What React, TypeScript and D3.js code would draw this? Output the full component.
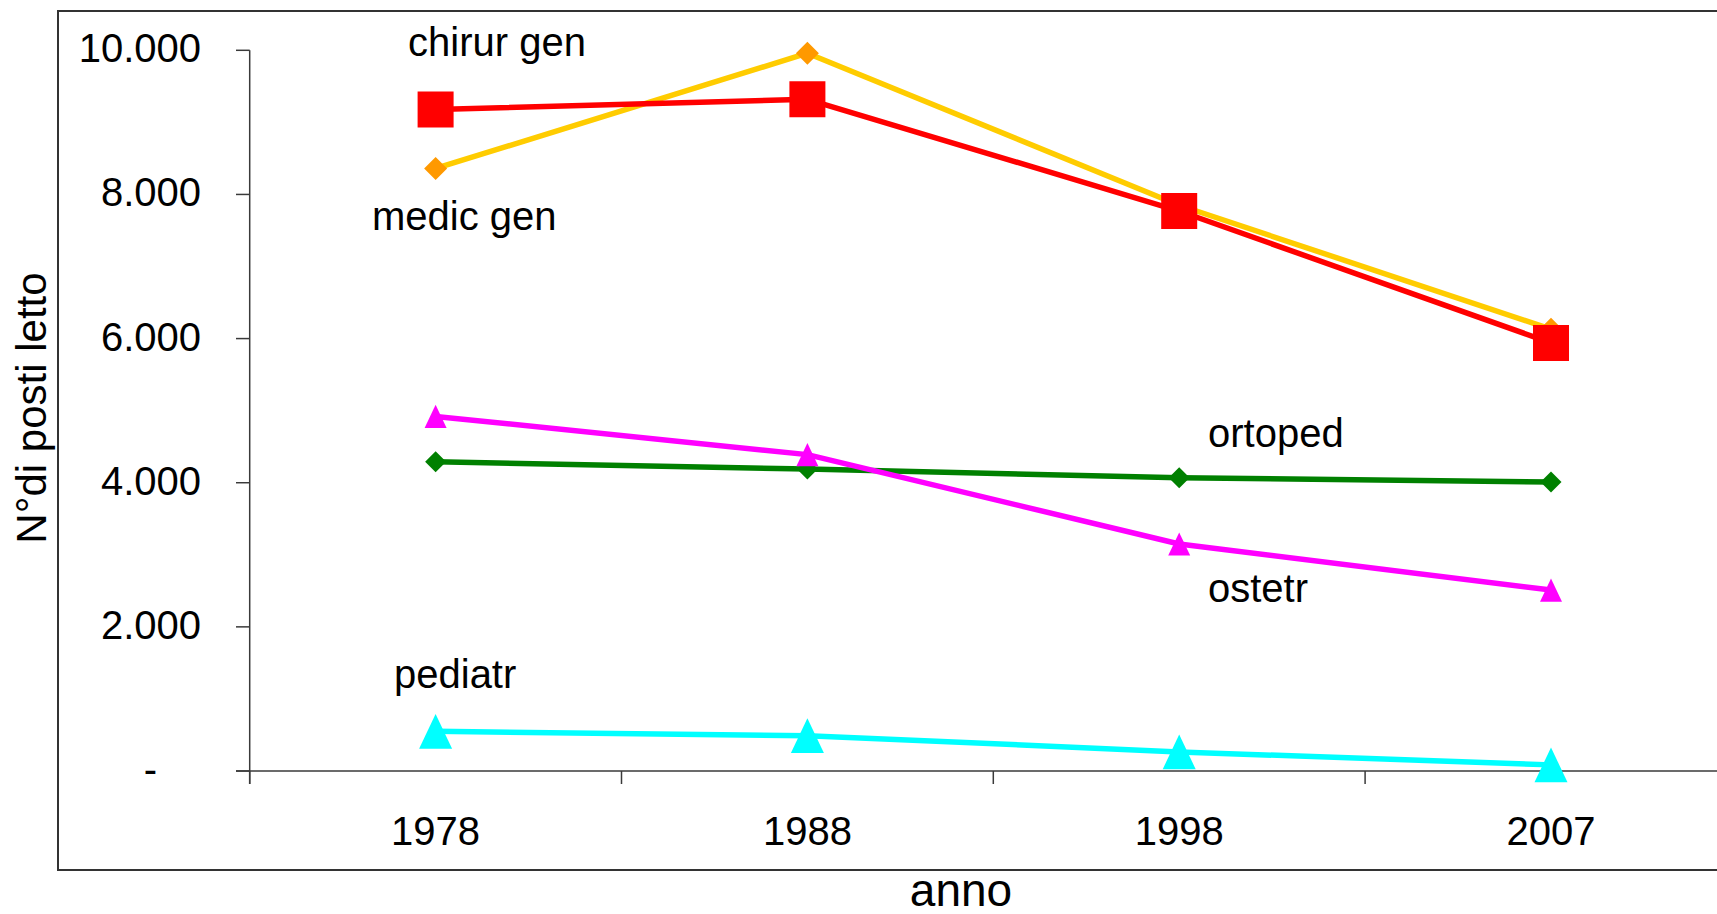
import React from "react";
import * as d3 from "d3";

const years = ["1978", "1988", "1998", "2007"];
const chirurGen = [9180, 9320, 7770, 5940];
const medicGen = [8360, 9960, 7850, 6130];
const ortoped = [4290, 4190, 4070, 4010];
const ostetr = [4920, 4390, 3150, 2510];
const pediatr = [550, 490, 265, 85];
const yTicks = [0, 2000, 4000, 6000, 8000, 10000];

const W = 1717;
const H = 914;
const FONT = "'Liberation Sans', Arial, sans-serif";

const locale = d3.formatLocale({ thousands: ".", grouping: [3], decimal: ",", currency: ["", ""] });
const fmt = locale.format(",");

type Series = {
  name: string;
  values: number[];
  line: string;
  marker: string;
  shape: "square" | "diamond" | "triangle";
  size: number;
};

const series: Series[] = [
  { name: "ortoped", values: ortoped, line: "#008000", marker: "#008000", shape: "diamond", size: 21 },
  { name: "ostetr", values: ostetr, line: "#FF00FF", marker: "#FF00FF", shape: "triangle", size: 22 },
  { name: "pediatr", values: pediatr, line: "#00FFFF", marker: "#00FFFF", shape: "triangle", size: 33 },
  { name: "medic gen", values: medicGen, line: "#FFCC00", marker: "#FF9900", shape: "diamond", size: 23 },
  { name: "chirur gen", values: chirurGen, line: "#FF0000", marker: "#FF0000", shape: "square", size: 36 },
];

const labels = [
  { text: "chirur gen", x: 408, y: 56 },
  { text: "medic gen", x: 372, y: 230 },
  { text: "ortoped", x: 1208, y: 447 },
  { text: "ostetr", x: 1208, y: 602 },
  { text: "pediatr", x: 394, y: 688 },
];

function markerPath(shape: string, cx: number, cy: number, s: number) {
  const h = s / 2;
  if (shape === "square") return `M${cx - h},${cy - h}h${s}v${s}h${-s}Z`;
  if (shape === "diamond") return `M${cx},${cy - h}L${cx + h},${cy}L${cx},${cy + h}L${cx - h},${cy}Z`;
  const th = s * 1.05;
  return `M${cx},${cy - th / 2}L${cx + h},${cy + th / 2}L${cx - h},${cy + th / 2}Z`;
}

export default function App() {
  const x0 = 249.7;
  const band = 371.8;
  const x = d3.scaleBand<string>().domain(years).range([x0, x0 + band * years.length]);
  const y = d3.scaleLinear().domain([0, 10000]).range([771, 50.3]);
  const cx = (yr: string) => (x(yr) as number) + x.bandwidth() / 2;
  const line = d3
    .line<number>()
    .x((_, i) => cx(years[i]))
    .y((v) => y(v));

  const axisColor = "#3a3a3a";
  const boundaries = d3.range(years.length + 1).map((i) => x0 + i * x.bandwidth());

  return (
    <svg
      width={W}
      height={H}
      style={{ position: "absolute", left: 0, top: 0, display: "block", background: "#fff" }}
      fontFamily={FONT}
    >
      <rect x={58} y={11} width={1800} height={859} fill="#fff" stroke="#333" strokeWidth={2} />
      {/* y axis */}
      <line x1={x0} x2={x0} y1={y(10000)} y2={784} stroke={axisColor} strokeWidth={1.5} />
      {yTicks.map((t) => (
        <g key={t}>
          <line x1={236} x2={x0} y1={y(t)} y2={y(t)} stroke={axisColor} strokeWidth={1.5} />
          <text
            x={t === 0 ? 157 : 201}
            y={y(t)}
            dy="0.3em"
            textAnchor="end"
            fontSize={40}
            fill="#000"
          >
            {t === 0 ? "-" : fmt(t)}
          </text>
        </g>
      ))}
      {/* x axis */}
      <line x1={236} x2={W + 50} y1={y(0)} y2={y(0)} stroke={axisColor} strokeWidth={1.5} />
      {boundaries.map((b, i) => (
        <line key={i} x1={b} x2={b} y1={y(0)} y2={784} stroke={axisColor} strokeWidth={1.5} />
      ))}
      {years.map((yr) => (
        <text key={yr} x={cx(yr)} y={845} textAnchor="middle" fontSize={40} fill="#000">
          {yr}
        </text>
      ))}
      <text x={961} y={906} textAnchor="middle" fontSize={46} fill="#000">
        anno
      </text>
      <text
        transform={`translate(46,408) rotate(-90)`}
        textAnchor="middle"
        fontSize={42}
        fill="#000"
      >
        N°di posti letto
      </text>
      {series.map((s) => (
        <g key={s.name}>
          <path d={line(s.values) as string} fill="none" stroke={s.line} strokeWidth={5.5} strokeLinejoin="round" />
          {s.values.map((v, i) => (
            <path key={i} d={markerPath(s.shape, cx(years[i]), y(v), s.size)} fill={s.marker} />
          ))}
        </g>
      ))}
      {labels.map((l) => (
        <text key={l.text} x={l.x} y={l.y} fontSize={40} fill="#000">
          {l.text}
        </text>
      ))}
    </svg>
  );
}
